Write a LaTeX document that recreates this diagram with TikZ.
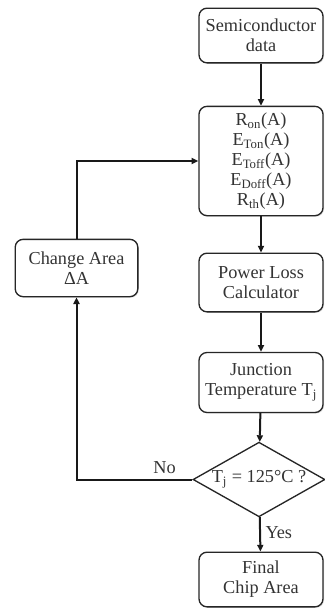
\documentclass[tikz,border=0pt]{standalone}
\usepackage{fontspec}
\setmainfont{Liberation Serif}
\usepackage{xcolor}
\definecolor{inkgray}{HTML}{333333}
\usepackage{tikz}
\usetikzlibrary{positioning,arrows.meta,shapes.geometric,shadows}

\begin{document}
\begin{tikzpicture}[x=0.75pt, y=-0.75pt,
    box/.style={draw=black!85, rounded corners=6pt, line width=1pt,
                minimum width=93pt, align=center, text=inkgray,
                font=\fontsize{13.7}{15}\selectfont, inner sep=2pt, fill=white,
                drop shadow={opacity=0.25, shadow xshift=0.8pt, shadow yshift=-0.8pt}},
    decbox/.style={draw=black!85, diamond, aspect=1.75, line width=1pt,
                   minimum width=99pt, minimum height=56pt, inner sep=0pt,
                   text=inkgray, font=\fontsize{13.7}{15}\selectfont, fill=white},
    lbl/.style={text=inkgray, font=\fontsize{13.7}{15}\selectfont},
    arr/.style={-{Triangle[length=5pt,width=4.5pt]}, line width=1.5pt, draw=black!90}]
  \useasboundingbox (0,0) rectangle (325,612);

  \node[box, minimum height=41pt] (sd)  at (261, 35.5) {Semiconductor\\data};
  \node[box, minimum height=82pt] (rx)  at (261,161)   {R\textsubscript{on}(A)\\E\textsubscript{Ton}(A)\\E\textsubscript{Toff}(A)\\E\textsubscript{Doff}(A)\\R\textsubscript{th}(A)};
  \node[box, minimum height=44pt] (pl)  at (261,282.5) {Power Loss\\Calculator};
  \node[box, minimum height=45pt] (jt)  at (261,382.5) {Junction\\Temperature T\textsubscript{j}};
  \node[decbox]                   (dec) at (259,479.5) {T\textsubscript{j} = 125°C ?};
  \node[box, minimum height=41pt] (fin) at (261,579.5) {Final\\Chip Area};
  \node[box, minimum height=43pt, minimum width=92pt] (ca) at (76.5,268) {Change Area\\ΔA};

  \draw[arr] (sd)  -- (rx);
  \draw[arr] (rx)  -- (pl);
  \draw[arr] (pl)  -- (jt);
  \draw[arr] (jt)  -- (dec);
  \draw[arr] (dec) -- node[lbl, right, pos=0.45] {Yes} (fin);
  \draw[arr] (dec.west) -| node[lbl, above, pos=0.12] {No} (ca.south);
  \draw[arr] (ca.north) |- (rx.west);
\end{tikzpicture}
\end{document}
